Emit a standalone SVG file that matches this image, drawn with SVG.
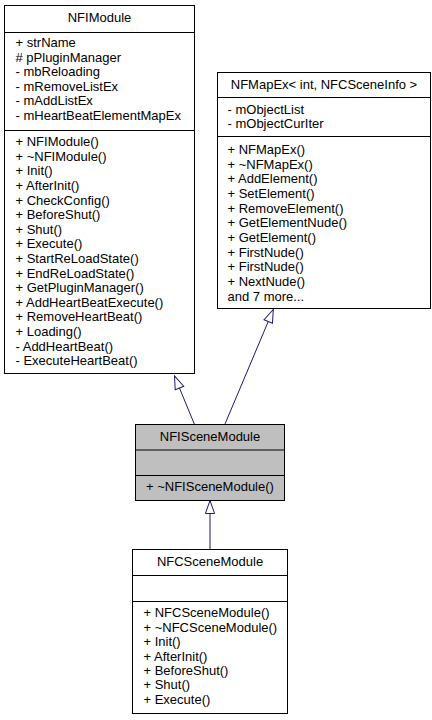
<svg xmlns="http://www.w3.org/2000/svg" width="432" height="720" viewBox="0 0 432 720">
<style>
text{font-family:"Liberation Sans",Arial,sans-serif;font-size:13px;fill:#000}
.c{text-anchor:middle}
.box{fill:#fff;stroke:#000;stroke-width:1}
.cur{fill:#bfbfbf;stroke:#000;stroke-width:1}
.sep{stroke:#000;stroke-width:1}
.edge{fill:none;stroke:#191970;stroke-width:1;marker-end:url(#inh)}
</style>
<defs>
<marker id="inh" markerUnits="userSpaceOnUse" markerWidth="16" markerHeight="12" viewBox="-14 -6 16 12" refX="0" refY="0" orient="auto">
<path d="M0,0 L-13,-4.6 L-13,4.6 Z" fill="#fff" stroke="#191970" stroke-width="1"/>
</marker>
</defs>
<rect width="432" height="720" fill="#fff"/>
<g id="connectors">
<path class="edge" d="M194.3,424 L174.5,376"/>
<path class="edge" d="M225,424 L273.3,309.5"/>
<path class="edge" d="M210,549 L210,500.5"/>
</g>
<g id="NFIModule">
<rect class="box" x="4.5" y="5.5" width="190" height="368"/>
<line class="sep" x1="4.5" y1="32.5" x2="194.5" y2="32.5"/>
<line class="sep" x1="4.5" y1="130.5" x2="194.5" y2="130.5"/>
<text class="c" x="99.5" y="22">NFIModule</text>
<text x="15.5" y="47.2">+ strName</text>
<text x="15.5" y="61.7"># pPluginManager</text>
<text x="15.5" y="76.3">- mbReloading</text>
<text x="15.5" y="90.8">- mRemoveListEx</text>
<text x="15.5" y="105.4">- mAddListEx</text>
<text x="15.5" y="119.9">- mHeartBeatElementMapEx</text>
<text x="15.5" y="146.2">+ NFIModule()</text>
<text x="15.5" y="160.8">+ ~NFIModule()</text>
<text x="15.5" y="175.4">+ Init()</text>
<text x="15.5" y="190">+ AfterInit()</text>
<text x="15.5" y="204.6">+ CheckConfig()</text>
<text x="15.5" y="219.2">+ BeforeShut()</text>
<text x="15.5" y="233.8">+ Shut()</text>
<text x="15.5" y="248.4">+ Execute()</text>
<text x="15.5" y="263">+ StartReLoadState()</text>
<text x="15.5" y="277.6">+ EndReLoadState()</text>
<text x="15.5" y="292.2">+ GetPluginManager()</text>
<text x="15.5" y="306.8">+ AddHeartBeatExecute()</text>
<text x="15.5" y="321.4">+ RemoveHeartBeat()</text>
<text x="15.5" y="336">+ Loading()</text>
<text x="15.5" y="350.6">- AddHeartBeat()</text>
<text x="15.5" y="365.2">- ExecuteHeartBeat()</text>
</g>
<g id="NFMapEx">
<rect class="box" x="217.5" y="72.5" width="213" height="236"/>
<line class="sep" x1="217.5" y1="97.5" x2="430.5" y2="97.5"/>
<line class="sep" x1="217.5" y1="136.5" x2="430.5" y2="136.5"/>
<text class="c" x="324" y="88.5">NFMapEx&lt; int, NFCSceneInfo &gt;</text>
<text x="227.5" y="113.5">- mObjectList</text>
<text x="227.5" y="127.8">- mObjectCurIter</text>
<text x="227.5" y="153.8">+ NFMapEx()</text>
<text x="227.5" y="168.5">+ ~NFMapEx()</text>
<text x="227.5" y="183.1">+ AddElement()</text>
<text x="227.5" y="197.8">+ SetElement()</text>
<text x="227.5" y="212.5">+ RemoveElement()</text>
<text x="227.5" y="227.2">+ GetElementNude()</text>
<text x="227.5" y="241.8">+ GetElement()</text>
<text x="227.5" y="256.5">+ FirstNude()</text>
<text x="227.5" y="271.2">+ FirstNude()</text>
<text x="227.5" y="285.8">+ NextNude()</text>
<text x="227.5" y="300.5">and 7 more...</text>
</g>
<g id="NFISceneModule">
<rect class="cur" x="135.5" y="424.5" width="149" height="76"/>
<line class="sep" x1="135.5" y1="450" x2="284.5" y2="450" stroke-width="1.5"/>
<line class="sep" x1="135.5" y1="475.5" x2="284.5" y2="475.5"/>
<text class="c" x="210" y="441.2">NFISceneModule</text>
<text x="146" y="491.2">+ ~NFISceneModule()</text>
</g>
<g id="NFCSceneModule">
<rect class="box" x="132.5" y="549.5" width="155" height="164"/>
<line class="sep" x1="132.5" y1="575.5" x2="287.5" y2="575.5"/>
<line class="sep" x1="132.5" y1="601.5" x2="287.5" y2="601.5"/>
<text class="c" x="210" y="566.2">NFCSceneModule</text>
<text x="143.5" y="617.2">+ NFCSceneModule()</text>
<text x="143.5" y="631.6">+ ~NFCSceneModule()</text>
<text x="143.5" y="646.1">+ Init()</text>
<text x="143.5" y="660.5">+ AfterInit()</text>
<text x="143.5" y="674.9">+ BeforeShut()</text>
<text x="143.5" y="689.4">+ Shut()</text>
<text x="143.5" y="703.8">+ Execute()</text>
</g>
</svg>
